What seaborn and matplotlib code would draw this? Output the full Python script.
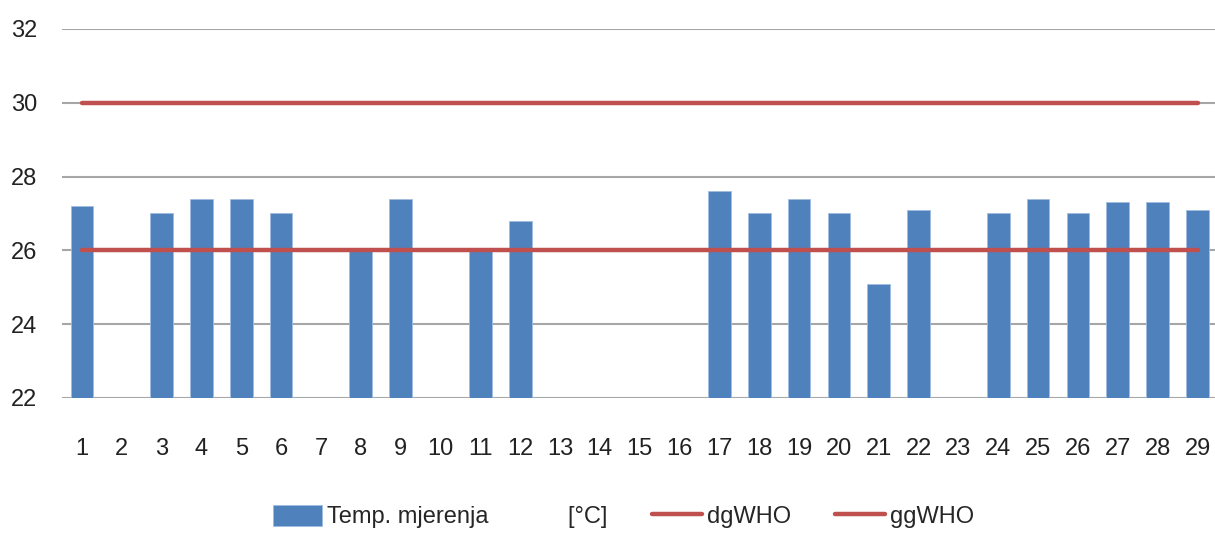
import numpy as np
import pandas as pd
import matplotlib
matplotlib.use("Agg")
import matplotlib.pyplot as plt
import seaborn as sns

# ==========================
# Data
# ==========================

days = list(range(1, 30))
temps = [27.2, np.nan, 27.0, 27.4, 27.4, 27.0, np.nan, 26.0, 27.4, np.nan,
         26.0, 26.8, np.nan, np.nan, np.nan, np.nan, 27.6, 27.0, 27.4, 27.0,
         25.1, 27.1, np.nan, 27.0, 27.4, 27.0, 27.3, 27.3, 27.1]
dg_who = 26
gg_who = 30

y_ticks = [22, 24, 26, 28, 30, 32]
bar_label = "Temp. mjerenja            [°C]"

bar_color = "#4F81BD"
line_color = "#C0504D"

df = pd.DataFrame({"day": [str(d) for d in days], "temp": temps})
pos = np.arange(len(days))
lines = pd.DataFrame({
    "pos": np.concatenate([pos, pos]),
    "val": [dg_who] * len(days) + [gg_who] * len(days),
    "serie": ["dgWHO"] * len(days) + ["ggWHO"] * len(days),
})

# ==========================
# Plot
# ==========================

sns.set_style("white")
plt.rcParams["font.family"] = ["Liberation Sans Narrow", "Liberation Sans", "DejaVu Sans"]

fig = plt.figure(figsize=(12.15, 5.34), dpi=100)
ax = fig.add_axes([0.051, 0.2547, 0.951, 0.691])

sns.barplot(
    data=df,
    x="day",
    y="temp",
    order=[str(d) for d in days],
    color=bar_color,
    width=0.57,
    saturation=1,
    edgecolor="#9fbde0",
    linewidth=0.6,
    label=bar_label,
    ax=ax,
    zorder=2,
)

sns.lineplot(
    data=lines,
    x="pos",
    y="val",
    hue="serie",
    palette=[line_color, line_color],
    linewidth=3.2,
    ax=ax,
    zorder=3,
)

ax.set_xlim(-0.5, len(days) - 0.5)
ax.set_ylim(22, 32)
ax.set_yticks(y_ticks)
ax.set_xticks(pos)
ax.set_xticklabels([str(d) for d in days])
ax.grid(axis="y", color="#a6a6a6", linewidth=1.5, zorder=0)
ax.set_axisbelow(True)
for s in ax.spines.values():
    s.set_visible(False)
ax.tick_params(axis="both", length=0, labelsize=17, labelcolor="#222222")
ax.tick_params(axis="x", pad=29)
ax.tick_params(axis="y", pad=18)
ax.set_xlabel("")
ax.set_ylabel("")

# bar entry first, then the two lines
handles, labels = ax.get_legend_handles_labels()
order = [labels.index(bar_label), labels.index("dgWHO"), labels.index("ggWHO")]
ax.legend(
    [handles[i] for i in order],
    [labels[i] for i in order],
    loc="center",
    bbox_to_anchor=(0.513, 0.033),
    bbox_transform=fig.transFigure,
    ncol=3,
    frameon=False,
    fontsize=17,
    handlelength=2.1,
    handleheight=1.0,
    columnspacing=1.9,
    handletextpad=0.2,
)

plt.savefig("out.png", dpi=100)
plt.close()
